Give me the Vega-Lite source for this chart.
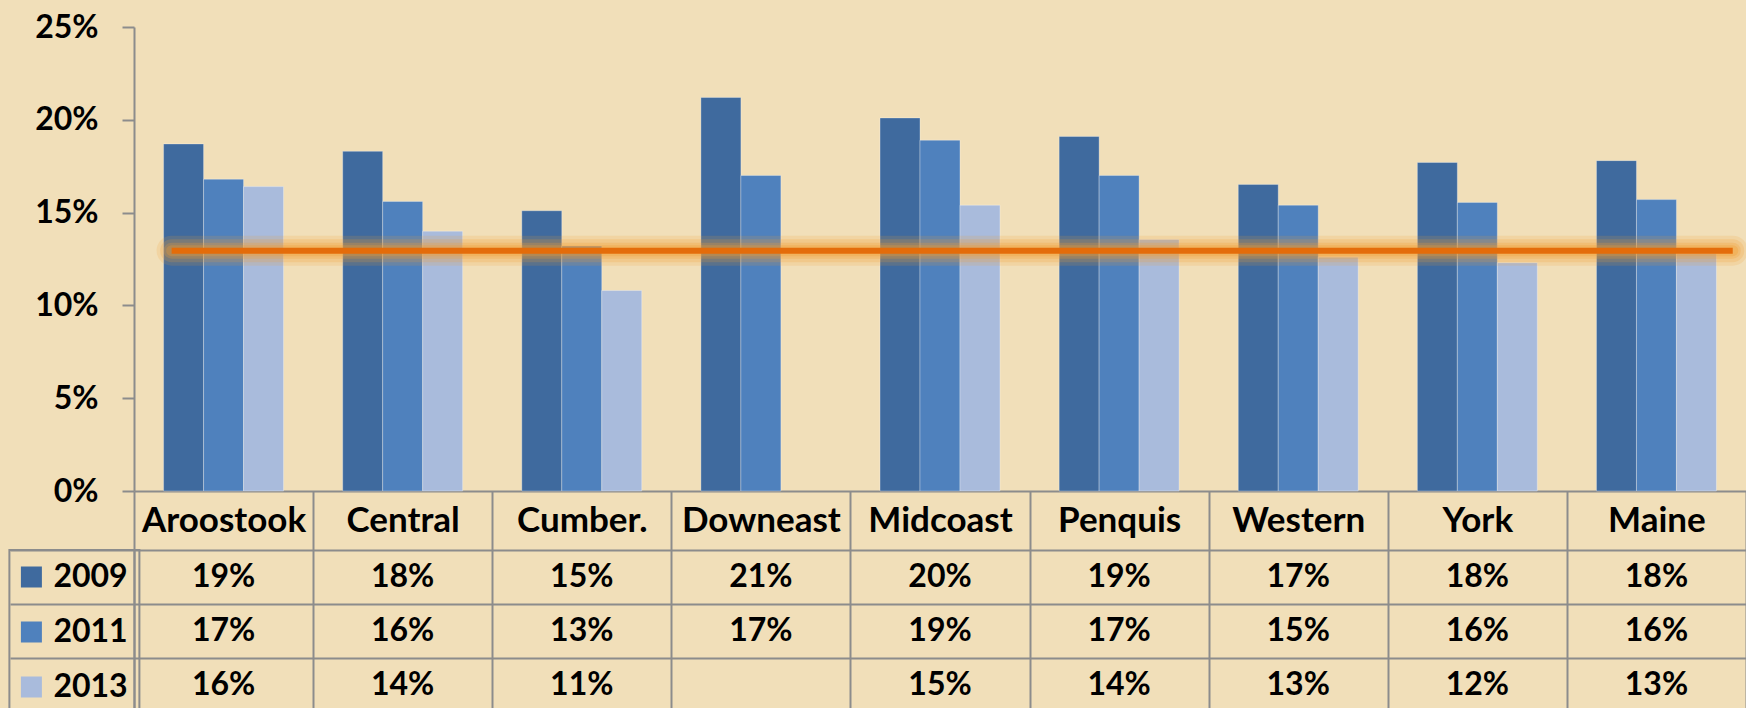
{
  "$schema": "https://vega.github.io/schema/vega-lite/v6.json",
  "background": "#f1dfb9",
  "padding": {"left": 8, "top": 11, "right": 0, "bottom": 0},
  "bounds": "flush",
  "spacing": 59,
  "config": {
    "font": "Lato",
    "view": {"stroke": null},
    "axis": {
      "labelFont": "Lato", "labelFontSize": 32, "labelFontWeight": "bold", "labelColor": "#000000",
      "domainColor": "#8c8c8c", "tickColor": "#8c8c8c", "gridColor": "#8c8c8c",
      "domainWidth": 2, "tickWidth": 2, "gridWidth": 2, "title": null
    },
    "legend": {"strokeWidth": 2}
  },
  "datasets": {
    "rates": [
      {"region": "Aroostook", "year": "2009", "value": 0.187},
      {"region": "Aroostook", "year": "2011", "value": 0.168},
      {"region": "Aroostook", "year": "2013", "value": 0.164},
      {"region": "Central", "year": "2009", "value": 0.183},
      {"region": "Central", "year": "2011", "value": 0.156},
      {"region": "Central", "year": "2013", "value": 0.140},
      {"region": "Cumber.", "year": "2009", "value": 0.151},
      {"region": "Cumber.", "year": "2011", "value": 0.132},
      {"region": "Cumber.", "year": "2013", "value": 0.108},
      {"region": "Downeast", "year": "2009", "value": 0.212},
      {"region": "Downeast", "year": "2011", "value": 0.170},
      {"region": "Midcoast", "year": "2009", "value": 0.201},
      {"region": "Midcoast", "year": "2011", "value": 0.189},
      {"region": "Midcoast", "year": "2013", "value": 0.154},
      {"region": "Penquis", "year": "2009", "value": 0.191},
      {"region": "Penquis", "year": "2011", "value": 0.170},
      {"region": "Penquis", "year": "2013", "value": 0.1355},
      {"region": "Western", "year": "2009", "value": 0.1652},
      {"region": "Western", "year": "2011", "value": 0.154},
      {"region": "Western", "year": "2013", "value": 0.126},
      {"region": "York", "year": "2009", "value": 0.177},
      {"region": "York", "year": "2011", "value": 0.1555},
      {"region": "York", "year": "2013", "value": 0.123},
      {"region": "Maine", "year": "2009", "value": 0.178},
      {"region": "Maine", "year": "2011", "value": 0.157},
      {"region": "Maine", "year": "2013", "value": 0.128}
    ],
    "benchmark": [{"benchmark": "Target", "value": 0.1295}]
  },
  "vconcat": [
    {
      "width": 1612,
      "height": 464,
      "layer": [
        {
          "data": {"name": "rates"},
          "mark": {"type": "bar", "stroke": "#ffffff", "strokeOpacity": 0.3, "strokeWidth": 1},
          "encoding": {
            "x": {
              "field": "region", "type": "nominal",
              "scale": {"domain": ["Aroostook", "Central", "Cumber.", "Downeast", "Midcoast", "Penquis", "Western", "York", "Maine"], "paddingInner": 0, "paddingOuter": 0},
              "axis": {"orient": "bottom", "tickBand": "extent", "tickSize": 59, "labelPadding": -29.5, "labelBaseline": "middle", "labelAngle": 0, "labelFontSize": 35, "labelOverlap": false, "labelBound": false, "domain": true, "grid": false}
            },
            "xOffset": {"field": "year", "type": "nominal", "scale": {"domain": ["2009", "2011", "2013"], "paddingInner": 0, "paddingOuter": 0.74}},
            "y": {
              "field": "value", "type": "quantitative",
              "scale": {"domain": [0, 0.25], "nice": false},
              "axis": {"values": [0, 0.05, 0.1, 0.15, 0.2, 0.25], "format": ".0%", "tickSize": 12, "labelPadding": 24, "grid": false, "domain": true}
            },
            "color": {
              "field": "year", "type": "nominal",
              "scale": {"domain": ["2009", "2011", "2013"], "range": ["#3f6a9e", "#4f81bd", "#a9bbdc"]},
              "legend": {
                "title": null, "orient": "none", "legendX": -124.6, "legendY": 523,
                "symbolType": "square", "symbolSize": 441, "symbolStrokeWidth": 0, "symbolOffset": -5,
                "labelFont": "Lato", "labelFontSize": 32, "labelFontWeight": "bold", "labelColor": "#000000",
                "labelOffset": 6, "rowPadding": 23, "padding": 11, "strokeColor": "#8c8c8c"
              }
            }
          }
        },
        {
          "data": {"name": "benchmark"},
          "mark": {"type": "rule", "color": "#f39a2e", "strokeWidth": 30, "opacity": 0.16, "strokeCap": "round"},
          "encoding": {
            "x": {"datum": "Aroostook", "bandPosition": 0.21},
            "x2": {"datum": "Maine", "bandPosition": 0.926},
            "y": {"field": "value", "type": "quantitative"}
          }
        },
        {
          "data": {"name": "benchmark"},
          "mark": {"type": "rule", "color": "#f39a2e", "strokeWidth": 23, "opacity": 0.2, "strokeCap": "round"},
          "encoding": {
            "x": {"datum": "Aroostook", "bandPosition": 0.21},
            "x2": {"datum": "Maine", "bandPosition": 0.926},
            "y": {"field": "value", "type": "quantitative"}
          }
        },
        {
          "data": {"name": "benchmark"},
          "mark": {"type": "rule", "color": "#f39a2e", "strokeWidth": 16, "opacity": 0.25, "strokeCap": "round"},
          "encoding": {
            "x": {"datum": "Aroostook", "bandPosition": 0.21},
            "x2": {"datum": "Maine", "bandPosition": 0.926},
            "y": {"field": "value", "type": "quantitative"}
          }
        },
        {
          "data": {"name": "benchmark"},
          "mark": {"type": "rule", "color": "#f39a2e", "strokeWidth": 11, "opacity": 0.3, "strokeCap": "round"},
          "encoding": {
            "x": {"datum": "Aroostook", "bandPosition": 0.21},
            "x2": {"datum": "Maine", "bandPosition": 0.926},
            "y": {"field": "value", "type": "quantitative"}
          }
        },
        {
          "data": {"name": "benchmark"},
          "mark": {"type": "rule", "color": "#e46c0a", "strokeWidth": 6},
          "encoding": {
            "x": {"datum": "Aroostook", "bandPosition": 0.21},
            "x2": {"datum": "Maine", "bandPosition": 0.926},
            "y": {"field": "value", "type": "quantitative"}
          }
        }
      ]
    },
    {
      "width": 1612,
      "height": 162,
      "data": {"name": "rates"},
      "mark": {"type": "text", "font": "Lato", "fontSize": 32, "fontWeight": "bold", "color": "#000000"},
      "encoding": {
        "x": {
          "field": "region", "type": "nominal",
          "scale": {"domain": ["Aroostook", "Central", "Cumber.", "Downeast", "Midcoast", "Penquis", "Western", "York", "Maine"], "paddingInner": 0, "paddingOuter": 0},
          "axis": {"grid": true, "tickBand": "extent", "ticks": false, "labels": false, "domain": false}
        },
        "y": {
          "field": "year", "type": "nominal",
          "scale": {"domain": ["2009", "2011", "2013"], "paddingInner": 0, "paddingOuter": 0},
          "axis": {"grid": true, "tickBand": "extent", "ticks": true, "tickSize": 124, "labels": false, "domain": true}
        },
        "text": {"field": "value", "format": ".0%"}
      }
    }
  ]
}
